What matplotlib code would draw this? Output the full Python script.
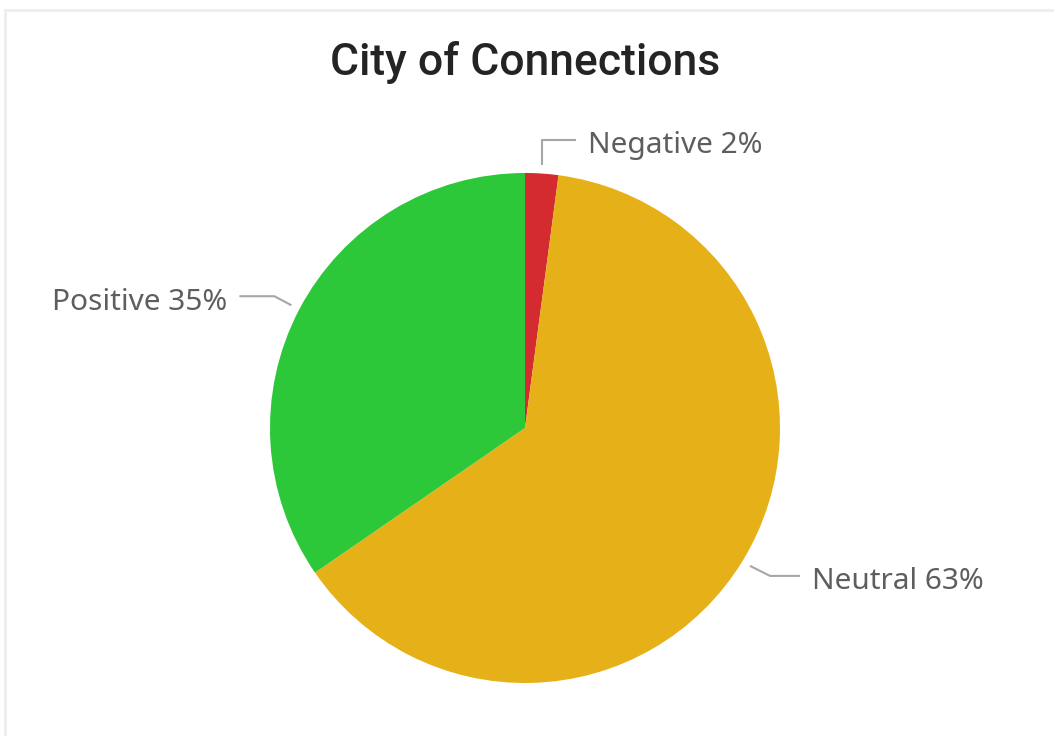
import numpy as np
import matplotlib
matplotlib.use('Agg')
import matplotlib.pyplot as plt
from matplotlib.lines import Line2D

title = 'City of Connections'
labels = ['Negative', 'Neutral', 'Positive']
shares = [2.1, 63.3, 34.6]
label_pcts = ['2%', '63%', '35%']
colors = ['#D42B30', '#E6B118', '#2DC83A']

W, H = 1054, 736
fig = plt.figure(figsize=(W / 100, H / 100), dpi=100)
ax = fig.add_axes([0, 0, 1, 1])

cx, cy, r = 525, H - 428, 255
wedges, _ = ax.pie(shares, colors=colors, startangle=90, counterclock=False,
                   center=(cx, cy), radius=r, frame=True,
                   wedgeprops={'linewidth': 0})
ax.set_xlim(0, W)
ax.set_ylim(0, H)
ax.set_aspect('equal')
ax.axis('off')

# leader line layout per label: elbow offset from start, end offset from elbow, text side
layout = {
    'Negative': ((0, 25), (34, 0), 'left'),
    'Neutral': ((20, -10), (30, 0), 'left'),
    'Positive': ((-17, 9), (-35, 0), 'right'),
}
line_col = '#A6A6A6'
text_col = '#605E5C'
for w, name, pct in zip(wedges, labels, label_pcts):
    mid = np.deg2rad((w.theta1 + w.theta2) / 2)
    sx = cx + r * 1.035 * np.cos(mid)
    sy = cy + r * 1.035 * np.sin(mid)
    (ex, ey), (hx, hy), side = layout[name]
    px, py = sx + ex, sy + ey
    qx, qy = px + hx, py + hy
    ax.plot([sx, px, qx], [sy, py, qy], color=line_col, lw=1.5, solid_capstyle='butt')
    tx = qx + (12 if side == 'left' else -12)
    ax.text(tx, qy - 6, '%s %s' % (name, pct), ha=side, va='center',
            fontsize=21.5, color=text_col, family=['Noto Sans', 'DejaVu Sans'])

fig.text(525 / W, 1 - 63 / H, title, ha='center', va='center', fontsize=32,
         color='#252423', weight='medium', family=['Roboto', 'DejaVu Sans'])

# faint card border
fig.add_artist(Line2D([5 / W, 5 / W], [0, 1 - 10 / H], color='#EEEEEE', lw=2))
fig.add_artist(Line2D([5 / W, 1], [1 - 10 / H, 1 - 10 / H], color='#EEEEEE', lw=2))

fig.savefig('out.png', dpi=100)
